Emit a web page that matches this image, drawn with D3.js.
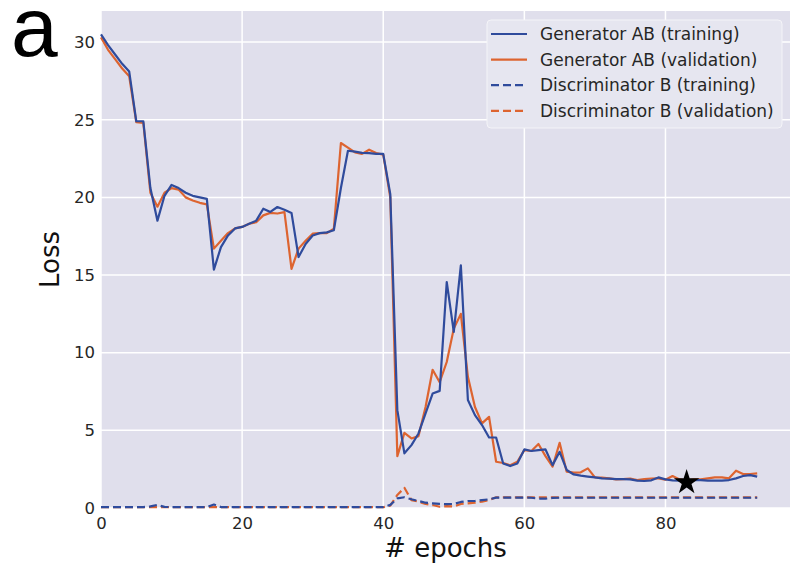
<!DOCTYPE html>
<html>
<head>
<meta charset="utf-8">
<script src="https://cdn.jsdelivr.net/npm/d3@7"></script>
<style>
  html, body { margin: 0; padding: 0; background: #fff; }
  svg { display: block; }
  .tick text { font-family: 'DejaVu Sans', sans-serif; font-size: 16.5px; fill: #262626; }
</style>
</head>
<body>
<div id="chart"></div>
<script>
const WIDTH = 792, HEIGHT = 567
const MARGIN = { top: 11, right: 2, bottom: 59, left: 101 }

// loss per epoch (epochs 0..93)
const genTrain = [
  30.5, 29.8, 29.2, 28.6, 28.1, 24.9, 24.9, 20.6, 18.5, 20.1,
  20.8, 20.6, 20.3, 20.1, 20.0, 19.9, 15.35, 16.8, 17.55, 18.0,
  18.1, 18.3, 18.5, 19.27, 19.06, 19.38, 19.2, 19.0, 16.16, 17.0,
  17.55, 17.7, 17.75, 17.88, 20.6, 23.0, 22.95, 22.87, 22.85, 22.8,
  22.8, 20.2, 6.3, 3.52, 4.05, 4.8, 6.09, 7.37, 7.54, 14.55,
  11.34, 15.63, 6.95, 5.98, 5.34, 4.54, 4.54, 2.87, 2.7, 2.87,
  3.77, 3.67, 3.73, 3.77, 2.76, 3.62, 2.45, 2.16, 2.08, 2.02,
  1.97, 1.91, 1.89, 1.86, 1.86, 1.84, 1.76, 1.74, 1.78, 1.97,
  1.84, 1.78, 1.76, 1.8, 1.8, 1.8, 1.76, 1.76, 1.76, 1.8,
  1.91, 2.06, 2.12, 2.02
]
const genVal = [
  30.3, 29.5, 28.9, 28.3, 27.8, 24.85, 24.8, 20.3, 19.4, 20.3,
  20.6, 20.5, 20.0, 19.8, 19.65, 19.55, 16.7, 17.2, 17.7, 18.0,
  18.1, 18.3, 18.4, 18.84, 19.0, 18.96, 19.05, 15.4, 16.7, 17.2,
  17.66, 17.7, 17.7, 17.98, 23.5, 23.2, 22.9, 22.8, 23.07, 22.85,
  22.75, 20.0, 3.34, 4.84, 4.48, 4.63, 6.5, 8.9, 8.1, 9.4,
  11.55, 12.5, 8.45, 6.5, 5.45, 5.87, 2.98, 2.9, 2.75, 2.98,
  3.73, 3.67, 4.12, 3.34, 2.66, 4.2, 2.34, 2.28, 2.3, 2.55,
  1.97, 1.95, 1.91, 1.84, 1.86, 1.89, 1.8, 1.86, 1.9, 1.91,
  1.82, 2.06, 1.84, 1.76, 1.84, 1.84, 1.91, 1.97, 1.97, 1.91,
  2.4, 2.19, 2.19, 2.23
]
const discTrain = [
  0.06, 0.06, 0.06, 0.06, 0.06, 0.06, 0.06, 0.1, 0.2, 0.07,
  0.06, 0.06, 0.06, 0.06, 0.06, 0.06, 0.22, 0.06, 0.06, 0.06,
  0.06, 0.06, 0.06, 0.06, 0.06, 0.06, 0.06, 0.06, 0.06, 0.06,
  0.06, 0.06, 0.06, 0.06, 0.06, 0.06, 0.06, 0.06, 0.06, 0.06,
  0.06, 0.2, 0.62, 0.69, 0.56, 0.45, 0.34, 0.3, 0.26, 0.25,
  0.26, 0.39, 0.45, 0.45, 0.51, 0.56, 0.67, 0.67, 0.67, 0.67,
  0.67, 0.66, 0.6, 0.6, 0.65, 0.66, 0.66, 0.66, 0.66, 0.66,
  0.66, 0.66, 0.66, 0.66, 0.66, 0.66, 0.66, 0.66, 0.66, 0.66,
  0.66, 0.66, 0.66, 0.66, 0.66, 0.66, 0.66, 0.66, 0.66, 0.66,
  0.66, 0.66, 0.66, 0.66
]
const discVal = [
  0.05, 0.05, 0.05, 0.05, 0.05, 0.05, 0.05, 0.05, 0.06, 0.05,
  0.05, 0.05, 0.05, 0.05, 0.05, 0.05, 0.06, 0.05, 0.05, 0.05,
  0.05, 0.05, 0.05, 0.05, 0.05, 0.05, 0.05, 0.05, 0.05, 0.05,
  0.05, 0.05, 0.05, 0.05, 0.05, 0.05, 0.05, 0.05, 0.05, 0.05,
  0.05, 0.15, 0.84, 1.3, 0.51, 0.41, 0.26, 0.19, 0.08, 0.12,
  0.1, 0.26, 0.3, 0.34, 0.41, 0.51, 0.69, 0.69, 0.69, 0.69,
  0.69, 0.68, 0.68, 0.68, 0.68, 0.68, 0.68, 0.68, 0.68, 0.68,
  0.68, 0.68, 0.68, 0.68, 0.68, 0.68, 0.68, 0.68, 0.68, 0.68,
  0.68, 0.68, 0.68, 0.68, 0.68, 0.68, 0.68, 0.68, 0.68, 0.68,
  0.68, 0.68, 0.68, 0.68
]
const bestEpoch = [83]
const bestLoss = [1.65]

const xTicks = [0, 20, 40, 60, 80]
const yTicks = [0, 5, 10, 15, 20, 25, 30]

const BLUE = '#2f4b9c'
const ORANGE = '#dd6430'

const SERIES = [
  { name: 'Generator AB (training)',      values: genTrain,  color: BLUE,   dash: null },
  { name: 'Generator AB (validation)',    values: genVal,    color: ORANGE, dash: null },
  { name: 'Discriminator B (training)',   values: discTrain, color: BLUE,   dash: '8,4' },
  { name: 'Discriminator B (validation)', values: discVal,   color: ORANGE, dash: '8,4' },
]

const W = WIDTH - MARGIN.left - MARGIN.right
const H = HEIGHT - MARGIN.top - MARGIN.bottom

const svg = d3.select('#chart').append('svg')
  .attr('width', WIDTH).attr('height', HEIGHT)

const g = svg.append('g').attr('transform', `translate(${MARGIN.left},${MARGIN.top})`)

const x = d3.scaleLinear().domain([0, 97.65]).range([0, W])
const y = d3.scaleLinear().domain([0, 32]).range([H, 0])

// ── background + grid ───────────────────────────────────────
g.append('rect').attr('width', W).attr('height', H).attr('fill', '#e0dfec')

g.append('g').selectAll('line').data(yTicks).join('line')
  .attr('x1', 0).attr('x2', W)
  .attr('y1', d => y(d)).attr('y2', d => y(d))
  .attr('stroke', '#fff').attr('stroke-width', 1.5)
g.append('g').selectAll('line').data(xTicks).join('line')
  .attr('x1', d => x(d)).attr('x2', d => x(d))
  .attr('y1', 0).attr('y2', H)
  .attr('stroke', '#fff').attr('stroke-width', 1.5)

// ── axes ────────────────────────────────────────────────────
const xAxis = g.append('g').attr('transform', `translate(0,${H})`)
  .call(d3.axisBottom(x).tickValues(xTicks).tickSize(0).tickPadding(9))
xAxis.select('.domain').remove()

const yAxis = g.append('g')
  .call(d3.axisLeft(y).tickValues(yTicks).tickSize(0).tickPadding(6))
yAxis.select('.domain').remove()

// ── lines ───────────────────────────────────────────────────
const line = d3.line().x((d, i) => x(i)).y(d => y(d))

g.append('g').selectAll('path').data(SERIES.slice().reverse()).join('path')
  .attr('d', d => line(d.values))
  .attr('fill', 'none')
  .attr('stroke', d => d.color)
  .attr('stroke-width', 2.2)
  .attr('stroke-dasharray', d => d.dash)
  .attr('stroke-linejoin', 'round')

// best epoch star
g.append('path')
  .attr('d', d3.symbol(d3.symbolStar, 200)())
  .attr('transform', `translate(${x(bestEpoch[0])},${y(bestLoss[0])})`)
  .attr('fill', '#000')

// ── labels ──────────────────────────────────────────────────
svg.append('text')
  .attr('x', MARGIN.left + W / 2).attr('y', 557)
  .attr('text-anchor', 'middle')
  .style('font-family', 'DejaVu Sans, sans-serif').style('font-size', '26px').style('fill', '#111')
  .text('# epochs')

svg.append('text')
  .attr('transform', `translate(59,${MARGIN.top + H / 2}) rotate(-90)`)
  .attr('text-anchor', 'middle')
  .style('font-family', 'DejaVu Sans, sans-serif').style('font-size', '26px').style('fill', '#111')
  .text('Loss')

svg.append('text')
  .attr('x', 11).attr('y', 56)
  .style('font-family', 'Liberation Sans, Arial, sans-serif').style('font-size', '84px').style('fill', '#000')
  .text('a')

// ── legend ──────────────────────────────────────────────────
const legend = svg.append('g').attr('transform', 'translate(487,20)')
legend.append('rect')
  .attr('width', 295).attr('height', 108).attr('rx', 4)
  .attr('fill', '#e6e6f0').attr('stroke', '#f4f4f8').attr('stroke-width', 1)

SERIES.forEach((s, i) => {
  const row = legend.append('g').attr('transform', `translate(0,${14 + i * 25.6})`)
  row.append('line')
    .attr('x1', 4).attr('x2', 40).attr('y1', 0).attr('y2', 0)
    .attr('stroke', s.color).attr('stroke-width', 2.2)
    .attr('stroke-dasharray', s.dash)
  row.append('text')
    .attr('x', 53).attr('y', 6)
    .style('font-family', 'DejaVu Sans, sans-serif').style('font-size', '17px').style('fill', '#262626')
    .text(s.name)
})
</script>
</body>
</html>
